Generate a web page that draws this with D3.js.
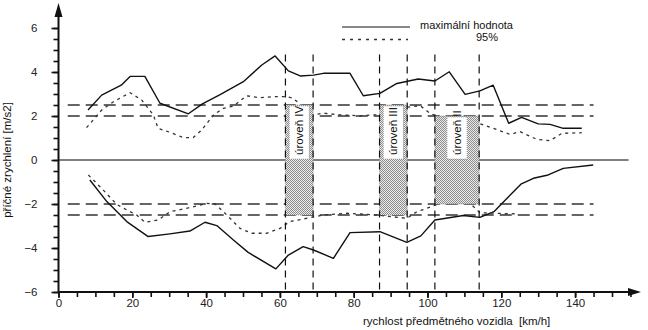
<!DOCTYPE html>
<html>
<head>
<meta charset="utf-8">
<script src="https://cdn.jsdelivr.net/npm/d3@7/dist/d3.min.js"></script>
<style>
  html, body { margin: 0; padding: 0; background: #fff; }
  svg { display: block; font-family: "Liberation Sans", Arial, sans-serif; }
</style>
</head>
<body>
<svg id="chart" width="648" height="330"></svg>
<script>
// Maximum lateral acceleration (solid) and 95th percentile (dotted), [speed km/h, a m/s2]
const maxUpper = [[8.0,2.27],[11.7,2.95],[17.0,3.4],[19.4,3.8],[23.4,3.8],[27.5,2.58],[35.2,2.1],[39.0,2.55],[43.8,2.97],[50.1,3.56],[55.1,4.32],[58.7,4.73],[62.3,4.05],[65.5,3.82],[69.1,3.86],[71.8,3.94],[79.0,3.94],[82.6,2.92],[87.1,3.03],[91.7,3.48],[97.5,3.68],[102.0,3.59],[105.9,4.01],[110.2,2.98],[114.2,3.14],[117.8,3.4],[122.0,1.67],[125.5,1.94],[130.0,1.64],[133.2,1.62],[136.8,1.44],[141.8,1.44]];
const p95Upper = [[7.6,1.47],[11.7,2.27],[14.9,2.65],[19.4,3.06],[22.5,2.73],[25.7,2.05],[27.0,1.44],[30.2,1.26],[33.8,1.02],[36.5,1.02],[38.8,1.36],[42.0,2.05],[44.7,2.35],[47.4,2.45],[51.0,2.92],[54.6,2.83],[58.7,2.88],[61.8,2.88],[63.6,2.8],[69.0,2.05],[71.8,2.13],[76.3,2.05],[81.7,2.01],[85.3,2.05],[87.1,2.05],[93.4,2.38],[98.0,2.47],[100.7,2.12],[102.5,2.0],[108.0,1.85],[114.2,1.65],[117.8,1.44],[122.4,1.16],[125.1,1.29],[129.6,0.94],[133.2,0.88],[136.4,1.21],[141.8,1.24]];
const maxLower = [[8.5,-0.91],[13.1,-1.89],[18.5,-2.8],[24.3,-3.48],[30.2,-3.36],[35.6,-3.23],[39.7,-2.83],[42.9,-2.98],[47.4,-3.64],[51.4,-4.2],[58.9,-4.95],[62.3,-4.32],[66.3,-3.94],[69.1,-4.09],[74.5,-4.47],[79.0,-3.3],[87.1,-3.26],[94.4,-3.74],[98.2,-3.45],[102.0,-2.73],[109.7,-2.52],[114.2,-2.61],[118.0,-2.35],[125.3,-1.1],[128.7,-0.83],[132.7,-0.68],[136.8,-0.38],[144.9,-0.23]];
const p95Lower = [[8.1,-0.68],[12.1,-1.36],[15.8,-2.02],[18.5,-2.27],[21.2,-2.5],[23.4,-2.83],[27.0,-2.73],[30.2,-2.35],[34.7,-2.2],[40.2,-1.97],[42.5,-2.0],[45.6,-2.5],[49.2,-3.11],[52.4,-3.33],[56.4,-3.33],[60.0,-3.11],[62.7,-2.8],[68.2,-2.62],[71.8,-2.5],[78.1,-2.42],[86.2,-2.5],[94.4,-2.65],[97.1,-2.35],[99.8,-2.2],[102.5,-2.02],[107.0,-1.82],[110.6,-1.82],[114.2,-2.4],[124.0,-2.45]];

// Comfort levels: speed band and acceleration limit
const levelNames = ["úroveň IV", "úroveň III", "úroveň II"];
const levelFrom = [61.5, 87, 102];
const levelTo = [69, 94.5, 114];
const levelLimit = [2.5, 2.5, 2];

// Reference acceleration limits (horizontal dashed lines)
const limitLines = [2.5, 2, -2, -2.5];

const xTicksLabelled = [0, 20, 40, 60, 80, 100, 120, 140];
const yTicksLabelled = [-6, -4, -2, 0, 2, 4, 6];

const legendLabels = ["maximální hodnota", "95%"];
const xTitle = "rychlost předmětného vozidla\u00a0\u00a0[km/h]";
const yTitle = "příčné zrychlení [m/s2]";

const svg = d3.select("#chart");
const x = d3.scaleLinear().domain([0, 155]).range([58.5, 58.5 + 155 * 3.69]);
const y = d3.scaleLinear().domain([-6, 6]).range([292, 28]);

// stipple fill for the level bands
const defs = svg.append("defs");
const pat = defs.append("pattern").attr("id", "stipple")
  .attr("patternUnits", "userSpaceOnUse").attr("width", 2).attr("height", 2);
pat.append("rect").attr("width", 2).attr("height", 2).attr("fill", "#ececec");
pat.append("rect").attr("x", 0).attr("y", 0).attr("width", 1).attr("height", 1).attr("fill", "#8c8c8c");
pat.append("rect").attr("x", 1).attr("y", 1).attr("width", 1).attr("height", 1).attr("fill", "#8c8c8c");

// zero line
svg.append("line")
  .attr("x1", x(0)).attr("x2", x(154.5))
  .attr("y1", y(0)).attr("y2", y(0))
  .attr("stroke", "#808080").attr("stroke-width", 2);

// horizontal limit lines
svg.selectAll("line.limit").data(limitLines).join("line").attr("class", "limit")
  .attr("x1", x(2.5)).attr("x2", x(145))
  .attr("y1", d => y(d)).attr("y2", d => y(d))
  .attr("stroke", "#333").attr("stroke-width", 1.3).attr("stroke-dasharray", "12,6");

// curves
const line = d3.line().x(d => x(d[0])).y(d => y(d[1]));
[maxUpper, maxLower].forEach(s => svg.append("path").datum(s)
  .attr("d", line).attr("fill", "none").attr("stroke", "#111").attr("stroke-width", 1.4)
  .attr("stroke-linejoin", "round"));
[p95Upper, p95Lower].forEach(s => svg.append("path").datum(s)
  .attr("d", line).attr("fill", "none").attr("stroke", "#333").attr("stroke-width", 1.3)
  .attr("stroke-dasharray", "3,4"));

// level bands, their labels and edge lines
levelNames.forEach((name, i) => {
  const x0 = x(levelFrom[i]), x1 = x(levelTo[i]);
  const lim = levelLimit[i];
  svg.append("rect")
    .attr("x", x0).attr("width", x1 - x0)
    .attr("y", y(lim)).attr("height", y(-lim) - y(lim))
    .attr("fill", "url(#stipple)")
    .attr("stroke", "#888").attr("stroke-width", 0.8).attr("stroke-dasharray", "1,1");
  const cx = (x0 + x1) / 2;
  svg.append("rect")
    .attr("x", cx - 10).attr("width", 20)
    .attr("y", y(lim) + 1).attr("height", y(0) - y(lim) - 2)
    .attr("fill", "#fff")
    .attr("stroke", "#999").attr("stroke-width", 0.8).attr("stroke-dasharray", "1,1");
  svg.append("text")
    .attr("transform", `translate(${cx + 4},${y(0) - 5}) rotate(-90)`)
    .attr("font-size", 11.5).attr("fill", "#111")
    .text(name);
});

const edges = levelFrom.concat(levelTo);
svg.selectAll("line.edge").data(edges).join("line").attr("class", "edge")
  .attr("x1", d => x(d)).attr("x2", d => x(d))
  .attr("y1", y(4.8)).attr("y2", y(-6))
  .attr("stroke", "#111").attr("stroke-width", 1.2).attr("stroke-dasharray", "7,5");

// y axis
const gy = svg.append("g").attr("transform", `translate(${x(0)},0)`);
gy.call(d3.axisLeft(y).tickValues(d3.range(-6, 6.01, 0.5)).tickSize(5).tickFormat(""));
gy.call(g => g.select(".domain").remove());
const gyl = svg.append("g").attr("transform", `translate(${x(0)},0)`);
gyl.call(d3.axisLeft(y).tickValues(yTicksLabelled).tickSize(7).tickPadding(14).tickFormat(d3.format("d")));
gyl.call(g => g.select(".domain").remove());

// x axis
const gx = svg.append("g").attr("transform", `translate(0,${y(-6)})`);
gx.call(d3.axisBottom(x).tickValues(d3.range(0, 156, 5)).tickSize(5).tickFormat(""));
gx.call(g => g.select(".domain").remove());
const gxl = svg.append("g").attr("transform", `translate(0,${y(-6)})`);
gxl.call(d3.axisBottom(x).tickValues(xTicksLabelled).tickSize(6).tickPadding(1).tickFormat(d3.format("d")));
gxl.call(g => g.select(".domain").remove());

svg.selectAll(".tick line").attr("stroke", "#111").attr("stroke-width", 1.6);
svg.selectAll(".tick text").attr("font-size", 11.5).attr("fill", "#222")
  .attr("font-family", "Liberation Sans, Arial, sans-serif");

// axis lines with arrow heads
svg.append("line").attr("x1", x(0)).attr("x2", x(0)).attr("y1", y(-6)).attr("y2", 10)
  .attr("stroke", "#111").attr("stroke-width", 2);
svg.append("path").attr("d", `M${x(0)},3 L${x(0) - 4},17 L${x(0) + 4},17 Z`).attr("fill", "#111");
svg.append("line").attr("x1", x(0)).attr("x2", 634).attr("y1", y(-6)).attr("y2", y(-6))
  .attr("stroke", "#111").attr("stroke-width", 2);
svg.append("path").attr("d", `M641,${y(-6)} L628,${y(-6) - 4} L628,${y(-6) + 4} Z`).attr("fill", "#111");

// axis titles
svg.append("text").attr("x", 363).attr("y", 325).attr("font-size", 11.5).attr("fill", "#111")
  .text(xTitle);
svg.append("text").attr("transform", "translate(11,160) rotate(-90)")
  .attr("text-anchor", "middle").attr("font-size", 11.5).attr("fill", "#111")
  .text(yTitle);

// legend
svg.append("line").attr("x1", 342).attr("x2", 410).attr("y1", 27).attr("y2", 27)
  .attr("stroke", "#111").attr("stroke-width", 1.2);
svg.append("line").attr("x1", 342).attr("x2", 408).attr("y1", 39.5).attr("y2", 39.5)
  .attr("stroke", "#333").attr("stroke-width", 1.3).attr("stroke-dasharray", "3,5");
svg.append("text").attr("x", 420).attr("y", 28.5).attr("font-size", 11).attr("fill", "#111")
  .text(legendLabels[0]);
svg.append("text").attr("x", 476).attr("y", 40.5).attr("font-size", 11).attr("fill", "#111")
  .text(legendLabels[1]);
</script>
</body>
</html>
